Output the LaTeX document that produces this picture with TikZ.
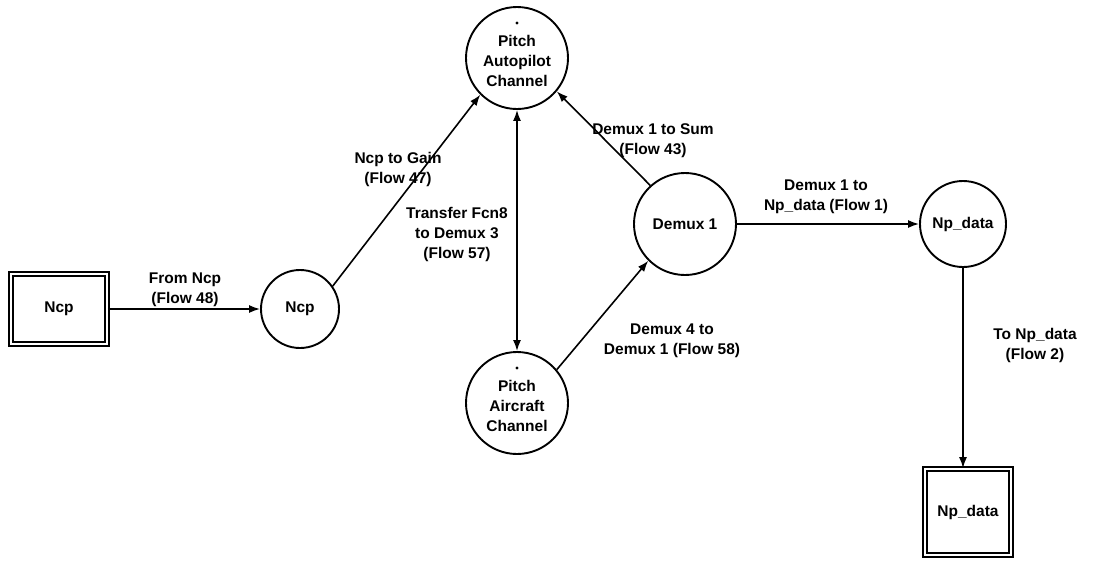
\documentclass[tikz,border=0pt]{standalone}
\usepackage{fontspec}
\setmainfont{Liberation Sans}
\usetikzlibrary{arrows.meta}
\begin{document}
\begin{tikzpicture}[x=1pt,y=-1pt,
  every node/.style={font=\fontsize{15.5}{20}\selectfont\bfseries},
  proc/.style={draw, circle, line width=1.9pt, minimum size=#1, inner sep=0pt, align=center},
  store/.style={draw, line width=1.7pt, double=white, double distance=2pt, inner sep=0pt},
  lbl/.style={align=center, inner sep=1pt},
  arr/.style={line width=1.6pt, -{Latex[length=11pt,width=8pt]}},
  darr/.style={line width=1.6pt, {Latex[length=11pt,width=8pt]}-{Latex[length=11pt,width=8pt]}}
]
\useasboundingbox (0,0) rectangle (1096,571);
% nodes
\node[store, minimum width=96pt, minimum height=70pt] (ncpbox) at (59,309) {Ncp};
\node[proc=78pt] (ncp) at (300,309) {Ncp};
\node[proc=102pt] (pa) at (517,58) {\\[-2pt]Pitch\\Autopilot\\Channel};
\node[proc=102pt] (dm) at (685,224) {Demux 1};
\node[proc=102pt] (ac) at (517,403) {\\[-2pt]Pitch\\Aircraft\\Channel};
\node[proc=86pt] (npc) at (963,224) {Np\_data};
\node[store, minimum width=86pt, minimum height=86pt] (npbox) at (968,512) {Np\_data};
% dots
\fill ([yshift=35pt]pa.center) circle (1.6pt);
\fill ([yshift=35pt]ac.center) circle (1.6pt);
% connectors
\draw[arr] (ncpbox.east) -- (ncp.west);
\draw[arr] (ncp.35) -- (pa.225);
\draw[arr] (dm.132) -- (pa.-40);
\draw[darr] (pa.south) -- (ac.north);
\draw[arr] (ac.40) -- (dm.225);
\draw[arr] (dm.east) -- (npc.west);
\draw[arr] (npc.south) -- (npc.south |- npbox.north);
% labels
\node[lbl] (l48) at (185,290) {From Ncp\\(Flow 48)};
\node[lbl] (l47) at (398,169) {Ncp to Gain\\(Flow 47)};
\node[lbl] (l43) at (653,141) {Demux 1 to Sum\\(Flow 43)};
\node[lbl] (l57) at (457,234) {Transfer Fcn8\\to Demux 3\\(Flow 57)};
\node[lbl] (l58) at (672,341) {Demux 4 to\\Demux 1 (Flow 58)};
\node[lbl] (l1) at (826,197) {Demux 1 to\\Np\_data (Flow 1)};
\node[lbl] (l2) at (1035,345) {To Np\_data\\(Flow 2)};
\end{tikzpicture}
\end{document}
